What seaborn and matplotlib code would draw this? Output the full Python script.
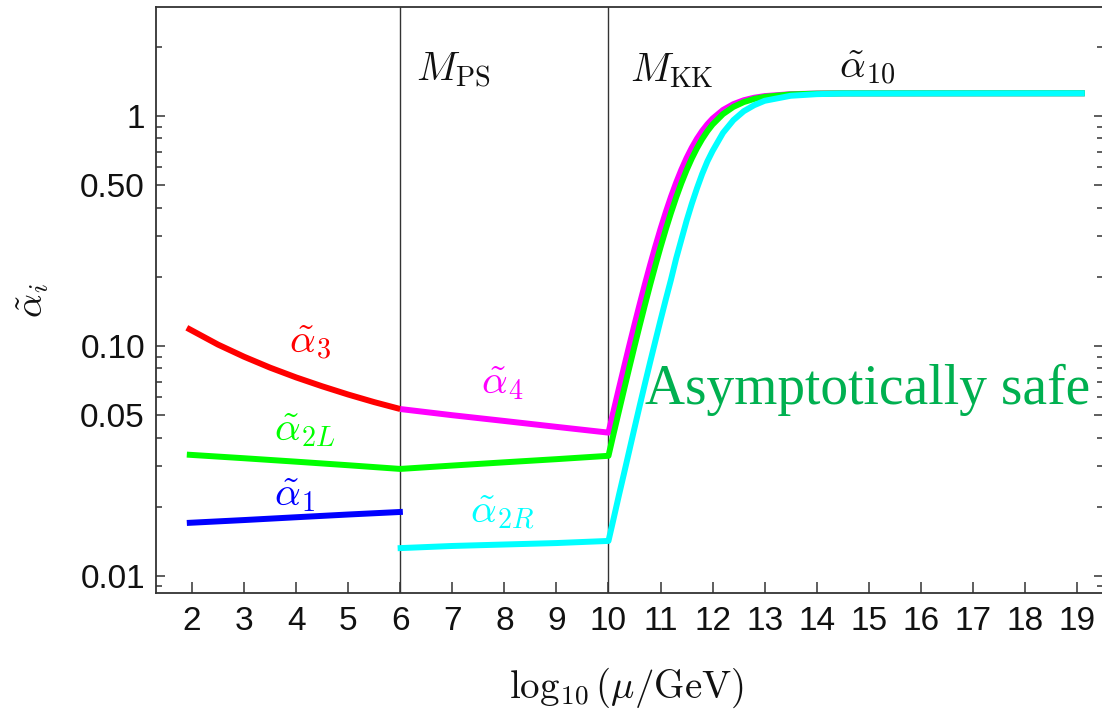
import numpy as np
import pandas as pd
import matplotlib
matplotlib.use("Agg")
import matplotlib.pyplot as plt
import matplotlib.ticker as mticker
import seaborn as sns

# ---- running couplings (log10 of scale in GeV, coupling value) ----
a3_x = [1.9, 2.5, 3.0, 3.5, 4.0, 4.5, 5.0, 5.5, 6.0]
a3_y = [0.120, 0.1014, 0.0898, 0.0805, 0.0730, 0.0668, 0.0615, 0.0570, 0.0532]

a1_x = [1.9, 3.0, 4.0, 5.0, 6.05]
a1_y = [0.0170, 0.0175, 0.0180, 0.0185, 0.0190]

# common scale grid above M_KK
kk_x = [10.0, 10.1, 10.2, 10.3, 10.4, 10.5, 10.6, 10.7, 10.8, 10.9,
        11.0, 11.1, 11.2, 11.3, 11.4, 11.5, 11.6, 11.7, 11.8, 11.9,
        12.0, 12.2, 12.4, 12.6, 12.8, 13.0, 13.5, 14.0, 14.5, 19.15]

a2L_x = [1.9, 3.0, 4.0, 5.0, 6.0, 7.0, 8.0, 9.0] + kk_x
a2L_y = [0.0337, 0.0325, 0.0314, 0.0303, 0.0292, 0.0302, 0.0312, 0.0322,
         0.0333, 0.0417, 0.0520, 0.0648, 0.0805, 0.0997, 0.1230, 0.1510, 0.1844, 0.2236,
         0.2691, 0.3210, 0.3789, 0.4425, 0.5107, 0.5817, 0.6537, 0.7253, 0.7945, 0.8594,
         0.9191, 1.0201, 1.0962, 1.1504, 1.1874, 1.2118, 1.2419, 1.2517, 1.2550, 1.256]

a4_x = [6.0, 7.0, 8.0, 9.0] + kk_x
a4_y = [0.0532, 0.0500, 0.0472, 0.0445,
        0.0420, 0.0524, 0.0653, 0.0811, 0.1005, 0.1239, 0.1521, 0.1857, 0.2251, 0.2709,
        0.3230, 0.3812, 0.4450, 0.5131, 0.5842, 0.6565, 0.7279, 0.7968, 0.8615, 0.9211,
        0.9747, 1.0626, 1.1266, 1.1714, 1.2014, 1.2210, 1.2449, 1.2527, 1.2550, 1.256]

a2R_x = [5.95, 7.0, 8.0, 9.0] + kk_x
a2R_y = [0.0132, 0.0135, 0.0137, 0.0139,
         0.0142, 0.0178, 0.0224, 0.0280, 0.0351, 0.0440, 0.0550, 0.0685, 0.0850, 0.1050,
         0.1295, 0.1590, 0.1940, 0.2400, 0.2900, 0.3500, 0.4150, 0.4850, 0.5600, 0.6350,
         0.7050, 0.8450, 0.9600, 1.0500, 1.1150, 1.1650, 1.2250, 1.2450, 1.2530, 1.256]

thresholds = [6, 10]
x_ticks = list(range(2, 20))
y_major = [0.01, 0.05, 0.10, 0.50, 1.0]
y_major_labels = ["0.01", "0.05", "0.10", "0.50", "1"]
y_minor = [0.009, 0.02, 0.03, 0.04, 0.06, 0.07, 0.08, 0.09,
           0.2, 0.3, 0.4, 0.6, 0.7, 0.8, 0.9, 2.0]

sns.set_style("white")
plt.rcParams["mathtext.fontset"] = "cm"
plt.rcParams["font.family"] = ["Liberation Sans", "DejaVu Sans"]

fig = plt.figure(figsize=(11.02, 7.10), dpi=100)
ax = fig.add_axes([156 / 1102, 1 - 593 / 710, (1103 - 156) / 1102, (593 - 7) / 710])

lw = 4.3
series = [
    (a3_x, a3_y, "#ff0000"),
    (a1_x, a1_y, "#0000ff"),
    (a4_x, a4_y, "#ff00ff"),
    (a2L_x, a2L_y, "#00ff00"),
    (a2R_x, a2R_y, "#00ffff"),
]
for xs, ys, col in series:
    df = pd.DataFrame({"x": xs, "y": ys})
    sns.lineplot(data=df, x="x", y="y", color=col, lw=lw, sort=False,
                 estimator=None, ax=ax, solid_capstyle="butt", zorder=3)

for t in thresholds:
    ax.axvline(t, color="#333333", lw=1.0, zorder=2)

ax.set_yscale("log")
ax.set_xlim(1.308, 19.50)
ax.set_ylim(0.00843, 2.98)

ax.xaxis.set_major_locator(mticker.FixedLocator(x_ticks))
ax.xaxis.set_major_formatter(mticker.FixedFormatter([str(v) for v in x_ticks]))
ax.yaxis.set_major_locator(mticker.FixedLocator(y_major))
ax.yaxis.set_major_formatter(mticker.FixedFormatter(y_major_labels))
ax.yaxis.set_minor_locator(mticker.FixedLocator(y_minor))
ax.yaxis.set_minor_formatter(mticker.NullFormatter())

ax.tick_params(axis="x", which="major", direction="in", length=8, width=1.1,
               colors="#333333", labelcolor="#111111", labelsize=24, pad=9,
               bottom=True, top=False)
ax.tick_params(axis="y", which="major", direction="in", length=6.5, width=1.1,
               colors="#333333", labelcolor="#111111", labelsize=24, pad=8,
               left=True, right=True)
ax.tick_params(axis="y", which="minor", direction="in", length=4.3, width=1.1,
               colors="#333333", left=True, right=True)

for side in ["left", "bottom", "top", "right"]:
    ax.spines[side].set_color("#333333")
    ax.spines[side].set_linewidth(1.3)
ax.set_xlabel("")
ax.set_ylabel("")

# curve labels
lab = 29
ax.text(4.27, 0.104, r"$\tilde{\alpha}_3$", color="#ff0000", fontsize=lab, ha="center", va="center")
ax.text(4.17, 0.0431, r"$\tilde{\alpha}_{2L}$", color="#00ff00", fontsize=lab, ha="center", va="center")
ax.text(3.98, 0.0225, r"$\tilde{\alpha}_1$", color="#0000ff", fontsize=lab, ha="center", va="center")
ax.text(7.97, 0.069, r"$\tilde{\alpha}_4$", color="#ff00ff", fontsize=lab, ha="center", va="center")
ax.text(7.97, 0.0188, r"$\tilde{\alpha}_{2R}$", color="#00ffff", fontsize=lab, ha="center", va="center")
ax.text(14.98, 1.62, r"$\tilde{\alpha}_{\mathbf{10}}$", color="#111111", fontsize=lab, ha="center", va="center")
ax.text(6.3, 1.58, r"$M_{\mathrm{PS}}$", color="#111111", fontsize=lab, ha="left", va="center")
ax.text(10.41, 1.58, r"$M_{\mathrm{KK}}$", color="#111111", fontsize=lab, ha="left", va="center")
ax.text(10.7, 0.0644, "Asymptotically safe", color="#00b050", fontsize=40,
        family=["Liberation Serif", "DejaVu Serif"], ha="left", va="center")

fig.text(626 / 1102, 1 - 688 / 710, r"$\log_{10}(\mu/\mathrm{GeV})$", fontsize=28,
         ha="center", va="center", color="#111111")
fig.text(33 / 1102, 1 - 300 / 710, r"$\tilde{\alpha}_i$", fontsize=27, rotation=90,
         ha="center", va="center", color="#111111")

fig.savefig("out.png", dpi=100)
